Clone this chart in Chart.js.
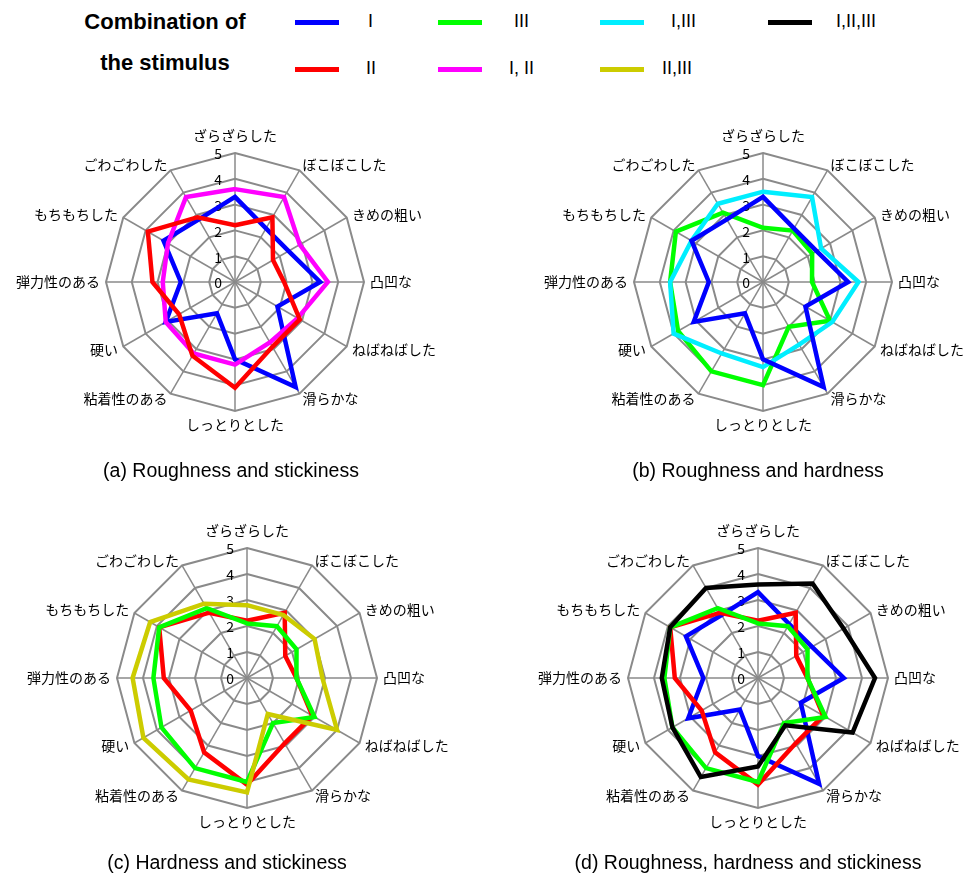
<!DOCTYPE html>
<html>
<head>
<meta charset="utf-8">
<script src="https://cdn.jsdelivr.net/npm/chart.js"></script>
<style>
  body { margin: 0; background: #fff; }
  #page { position: relative; width: 970px; height: 876px; overflow: hidden; font-family: "Liberation Sans", Arial, sans-serif; }
  .abs { position: absolute; }
  .title { font-weight: bold; font-size: 22px; width: 200px; text-align: center; line-height: 24px; }
  .swatch { height: 5px; width: 44px; }
  .key { font-size: 18px; line-height: 20px; }
  .caption { font-size: 19.5px; width: 440px; text-align: center; line-height: 22px; }
  canvas { position: absolute; }
</style>
</head>
<body>
<div id="page"></div>
<script>
// axis names, clockwise from the top
const axisLabels = ['ざらざらした', 'ぼこぼこした', 'きめの粗い', '凸凹な', 'ねばねばした', '滑らかな',
  'しっとりとした', '粘着性のある', '硬い', '弾力性のある', 'もちもちした', 'ごわごわした'];
const tickValues = [0, 1, 2, 3, 4, 5];

// mean ratings per stimulus combination
const stimI = [3.3, 2.4, 2.4, 3.3, 1.9, 4.7, 3.0, 1.4, 3.1, 2.1, 3.2, 2.8];
const stimII = [2.2, 2.9, 1.7, 1.9, 2.9, 2.9, 4.1, 3.3, 2.5, 3.2, 3.9, 2.9];
const stimIII = [2.1, 2.3, 2.2, 1.9, 3.0, 2.0, 4.0, 4.0, 3.8, 3.6, 3.9, 3.1];
const stimI_II = [3.6, 3.8, 2.9, 3.6, 2.8, 2.7, 3.2, 3.2, 3.1, 2.8, 3.0, 3.8];
const stimI_III = [3.5, 3.8, 2.6, 3.7, 3.1, 2.8, 3.3, 3.2, 4.0, 3.6, 3.2, 3.5];
const stimII_III = [2.8, 2.8, 3.0, 2.9, 4.0, 1.6, 4.4, 4.5, 4.6, 4.4, 4.3, 3.3];
const stimI_II_III = [3.6, 4.2, 3.8, 4.5, 4.2, 2.1, 3.4, 4.4, 3.8, 3.7, 3.9, 4.0];

const series = {
  'I':        { data: stimI,         color: '#0000ff' },
  'II':       { data: stimII,        color: '#ff0000' },
  'III':      { data: stimIII,       color: '#00ff00' },
  'I, II':    { data: stimI_II,      color: '#ff00ff' },
  'I,III':    { data: stimI_III,     color: '#00eeff' },
  'II,III':   { data: stimII_III,    color: '#cccc00' },
  'I,II,III': { data: stimI_II_III,  color: '#000000' }
};

const page = document.getElementById('page');

function addDiv(cls, text, left, top, extra) {
  const d = document.createElement('div');
  d.className = 'abs ' + cls;
  if (text) d.textContent = text;
  d.style.left = left + 'px';
  d.style.top = top + 'px';
  Object.assign(d.style, extra || {});
  page.appendChild(d);
  return d;
}

// legend block
addDiv('title', 'Combination of', 65, 10);
addDiv('title', 'the stimulus', 65, 51);
const legendItems = [
  ['I', 295, 22, 368], ['III', 438, 22, 514], ['I,III', 600, 22, 671], ['I,II,III', 768, 22, 836],
  ['II', 295, 69, 366], ['I, II', 438, 69, 509], ['II,III', 600, 69, 662]
];
legendItems.forEach(([name, sx, sy, tx]) => {
  addDiv('swatch', '', sx, sy - 2.5, { background: series[name].color });
  addDiv('key', name, tx, sy - 11);
});

// tick numbers and axis names, drawn under the data lines
const axisText = {
  id: 'axisText',
  beforeDatasetsDraw(chart) {
    const scale = chart.scales.r;
    const ctx = chart.ctx;
    const n = chart.data.labels.length;
    ctx.save();
    ctx.fillStyle = '#000';
    ctx.font = '14px "Noto Sans CJK JP"';
    ctx.textBaseline = 'middle';
    chart.data.labels.forEach((lab, i) => {
      const p = scale.getPointPosition(i, scale.drawingArea + 6);
      const ang = i * 360 / n;
      let y = p.y;
      if (ang === 0) { ctx.textAlign = 'center'; y -= 11; }
      else if (ang === 180) { ctx.textAlign = 'center'; y += 8; }
      else ctx.textAlign = ang < 180 ? 'left' : 'right';
      ctx.fillText(lab, p.x, y);
    });
    ctx.textAlign = 'right';
    tickValues.forEach(v => {
      const d = scale.getDistanceFromCenterForValue(v);
      ctx.fillText(String(v), scale.xCenter - 13, scale.yCenter - d + 1);
    });
    ctx.restore();
  }
};

function radar(names, box, cx, cy, R, caption, capX, capY) {
  const cv = document.createElement('canvas');
  cv.width = box.w; cv.height = box.h;
  cv.style.left = box.x + 'px';
  cv.style.top = box.y + 'px';
  page.appendChild(cv);
  const lx = cx - box.x, ly = cy - box.y;
  new Chart(cv.getContext('2d'), {
    type: 'radar',
    data: {
      labels: axisLabels,
      datasets: names.map(nm => ({
        label: nm,
        data: series[nm].data,
        borderColor: series[nm].color,
        backgroundColor: series[nm].color,
        borderWidth: 4.5,
        borderJoinStyle: 'miter',
        pointRadius: 0,
        fill: false,
        tension: 0
      }))
    },
    options: {
      responsive: false,
      animation: false,
      layout: { padding: { left: lx - R, top: ly - R, right: box.w - lx - R, bottom: box.h - ly - R } },
      plugins: { legend: { display: false }, tooltip: { enabled: false } },
      scales: {
        r: {
          min: 0, max: 5,
          ticks: { display: false, stepSize: 1 },
          grid: { color: '#8a8a8a', lineWidth: 2 },
          angleLines: { color: '#8a8a8a', lineWidth: 1.5 },
          pointLabels: { display: false }
        }
      }
    },
    plugins: [axisText]
  });
  addDiv('caption', caption, capX - 220, capY - 11);
}

// first listed dataset ends up on top
radar(['II', 'I, II', 'I'], { x: 0, y: 100, w: 485, h: 380 }, 235, 282, 129,
  '(a) Roughness and stickiness', 231, 470);
radar(['I', 'I,III', 'III'], { x: 485, y: 100, w: 485, h: 380 }, 763, 282, 129,
  '(b) Roughness and hardness', 758, 470);
radar(['II,III', 'III', 'II'], { x: 0, y: 495, w: 485, h: 360 }, 247, 678, 130,
  '(c) Hardness and stickiness', 227, 862);
radar(['I,II,III', 'III', 'II', 'I'], { x: 485, y: 495, w: 485, h: 360 }, 758, 678, 130,
  '(d) Roughness, hardness and stickiness', 748, 862);
</script>
</body>
</html>
